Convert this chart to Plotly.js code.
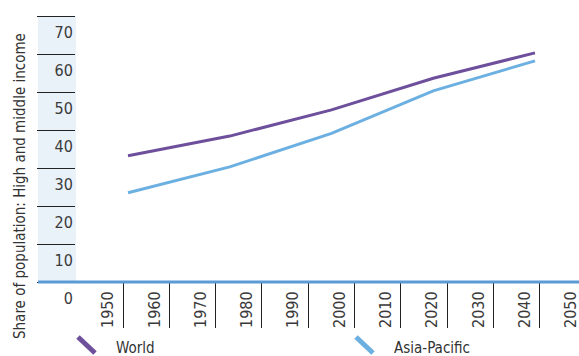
<!DOCTYPE html>
<html>
<head>
<meta charset="utf-8">
<script src="https://cdn.plot.ly/plotly-3.0.1.min.js"></script>
<style>
html,body{margin:0;padding:0;overflow:hidden;width:579px;height:356px;background:#fff;}
#chart{width:600px;height:356px;}
</style>
</head>
<body>
<div id="chart"></div>
<script>
// Data
const years = [1950, 1975, 2000, 2025, 2050];
const worldShare = [33.2, 38.4, 45.3, 53.6, 60.3];
const asiaPacificShare = [23.5, 30.3, 39.1, 50.3, 58.2];
const xTickYears = [1950, 1960, 1970, 1980, 1990, 2000, 2010, 2020, 2030, 2040, 2050];
const yTickValues = [0, 10, 20, 30, 40, 50, 60, 70];
const seriesNames = ['World', 'Asia-Pacific'];
const yTitle = 'Share of population: High and middle income';

const purple = '#6d4f9c';
const lightBlue = '#6cb0e2';
const axisBlue = '#5b9bd5';
const FONT = '"DejaVu Sans Condensed", "Liberation Sans Narrow", "DejaVu Sans", sans-serif';

// geometry helpers (pixel -> paper)
const W = 600, H = 356, ML = 76, MT = 0, MB = 74;
const PW = W - ML, PH = H - MT - MB;
const px = p => (p - ML) / PW;
const py = p => (MT + PH - p) / PH;

const traces = [
  // empty trace so the tick axis (x, y) subplot is created
  {x: [], y: [], type: 'scatter', mode: 'lines', xaxis: 'x', yaxis: 'y', showlegend: false, hoverinfo: 'skip'},
  {x: years, y: worldShare, name: seriesNames[0], type: 'scatter', mode: 'lines',
   line: {color: purple, width: 3}, xaxis: 'x2', yaxis: 'y', showlegend: false},
  {x: years, y: asiaPacificShare, name: seriesNames[1], type: 'scatter', mode: 'lines',
   line: {color: lightBlue, width: 3}, xaxis: 'x2', yaxis: 'y', showlegend: false}
];

const tickFont = {family: FONT, size: 16, color: '#3a3a3a'};

const layout = {
  width: W, height: H,
  margin: {l: ML, r: 0, t: MT, b: MB},
  paper_bgcolor: '#fff', plot_bgcolor: '#fff',
  font: {family: FONT, size: 15, color: '#333'},
  showlegend: false,
  xaxis: {
    range: [1939.85, 2053.0],
    tickmode: 'array', tickvals: xTickYears, ticktext: xTickYears.map(String),
    ticks: 'outside', ticklen: 45, tickcolor: '#222', tickwidth: 1,
    tickangle: -90, ticklabelshift: -15, ticklabelstandoff: -43,
    tickfont: tickFont,
    showgrid: false, zeroline: false, showline: false, fixedrange: true
  },
  xaxis2: {
    overlaying: 'x', anchor: 'y', range: [1937.22, 2065.97], visible: false, fixedrange: true
  },
  yaxis: {
    range: [0, 74.21],
    tickmode: 'array', tickvals: yTickValues, ticktext: yTickValues.map(String),
    ticks: 'outside', ticklen: 38, tickcolor: '#222', tickwidth: 1,
    ticklabelshift: 16, ticklabelstandoff: -39,
    tickfont: tickFont,
    showgrid: false, zeroline: false, showline: false, fixedrange: true
  },
  shapes: [
    {type: 'rect', xref: 'paper', yref: 'paper', x0: px(38), x1: 0, y0: 0, y1: py(16),
     fillcolor: '#e9f1f9', line: {width: 0}, layer: 'below'},
    {type: 'line', xref: 'paper', yref: 'paper', x0: px(38), x1: 1, y0: 0, y1: 0,
     line: {color: axisBlue, width: 3}, layer: 'above'},
    {type: 'line', xref: 'paper', yref: 'paper', x0: px(78), y0: py(337), x1: px(95), y1: py(353),
     line: {color: purple, width: 5}},
    {type: 'line', xref: 'paper', yref: 'paper', x0: px(356), y0: py(337), x1: px(373), y1: py(353),
     line: {color: lightBlue, width: 5}}
  ],
  annotations: [
    {text: yTitle, xref: 'paper', yref: 'paper', x: px(20), y: py(186), textangle: -90,
     showarrow: false, xanchor: 'center', yanchor: 'middle',
     font: {family: FONT, size: 15, color: '#333'}},
    {text: seriesNames[0], xref: 'paper', yref: 'paper', x: px(114), y: py(348),
     showarrow: false, xanchor: 'left', yanchor: 'middle',
     font: {family: FONT, size: 15, color: '#333'}},
    {text: seriesNames[1], xref: 'paper', yref: 'paper', x: px(392), y: py(348),
     showarrow: false, xanchor: 'left', yanchor: 'middle',
     font: {family: FONT, size: 15, color: '#333'}}
  ]
};

Plotly.newPlot('chart', traces, layout, {displayModeBar: false, staticPlot: true});
</script>
</body>
</html>
